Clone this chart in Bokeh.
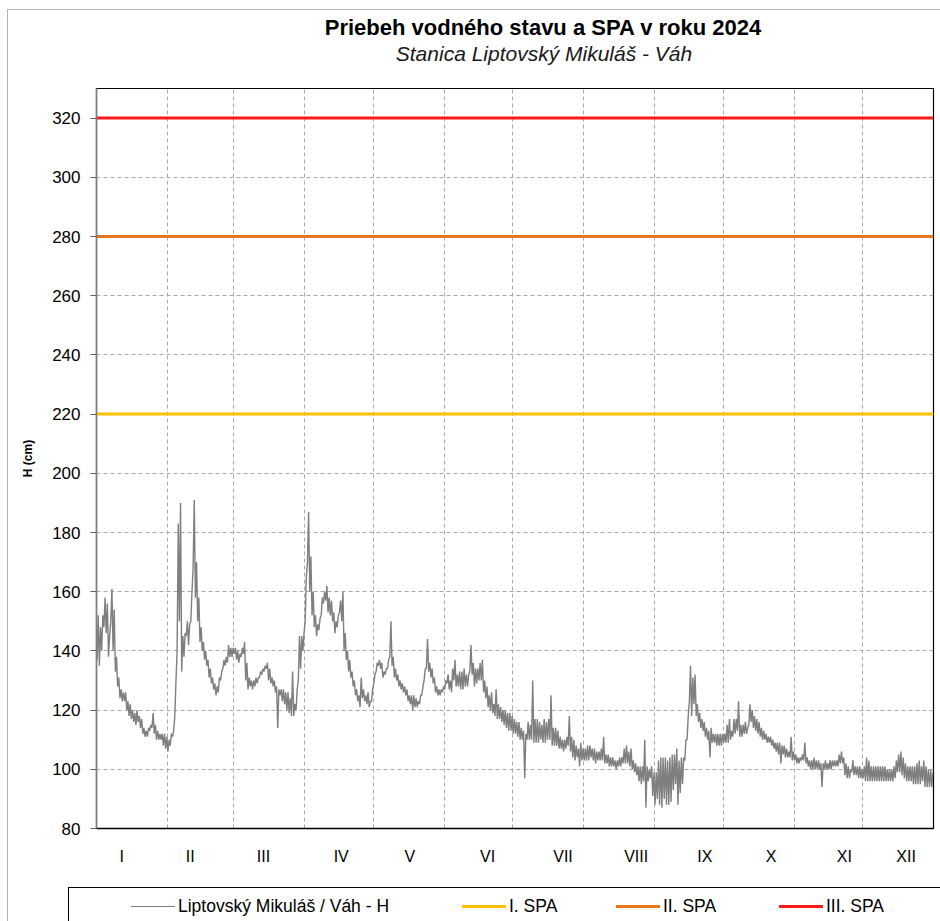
from bokeh.plotting import figure
from bokeh.models import Range1d, FixedTicker, ColumnDataSource, Div
from bokeh.layouts import column
from bokeh.embed import file_html
from bokeh.resources import INLINE

# ---------------- data ----------------
chart_title = "Priebeh vodného stavu a SPA v roku 2024"
chart_subtitle = "Stanica Liptovský Mikuláš - Váh"

month_lengths = [31, 29, 31, 30, 31, 30, 31, 31, 30, 31, 30, 31]
month_labels = ["I", "II", "III", "IV", "V", "VI", "VII", "VIII", "IX", "X", "XI", "XII"]
month_label_days = [11, 41, 73, 107, 137, 171, 204, 236, 266, 295, 327, 354]
y_ticks = [80, 100, 120, 140, 160, 180, 200, 220, 240, 260, 280, 300, 320]

spa_names = ["I. SPA", "II. SPA", "III. SPA"]
spa_levels = [220, 280, 320]
spa_colors = ["#FFC000", "#E8761E", "#FF1A1A"]

series_name = "Liptovský Mikuláš / Váh - H"
series_color = "#7F7F7F"

# daily minimum / maximum water level (cm), 2024 (366 days)
daily_low = [
    137, 135, 140, 148, 146, 138, 150, 140, 133, 128,
    124, 123, 123, 120, 118, 117, 116, 115, 116, 114,
    112, 111, 111, 113, 114, 112, 110, 110, 110, 108,
    107, 106, 108, 111, 118, 140, 150, 133, 138, 145,
    142, 150, 168, 158, 150, 143, 140, 137, 135, 131,
    129, 127, 125, 126, 130, 134, 135, 136, 138, 138,
    139, 137, 136, 138, 139, 130, 127, 128, 127, 128,
    129, 131, 132, 133, 134, 130, 129, 128, 126, 114,
    125, 123, 122, 120, 119, 118, 118, 120, 130, 134,
    140, 150, 170, 160, 152, 148, 145, 147, 152, 156,
    157, 153, 152, 150, 146, 148, 153, 150, 140, 137,
    133, 131, 128, 125, 123, 121, 124, 123, 122, 121,
    123, 129, 133, 135, 134, 131, 132, 134, 138, 135,
    131, 130, 128, 127, 126, 125, 123, 122, 120, 121,
    121, 122, 125, 130, 134, 133, 131, 129, 126, 125,
    125, 126, 127, 129, 127, 126, 130, 128, 128, 127,
    127, 128, 128, 133, 132, 128, 129, 130, 130, 126,
    124, 121, 120, 119, 118, 117, 117, 116, 115, 114,
    113, 113, 112, 112, 111, 110, 110, 97, 110, 110,
    110, 109, 109, 109, 110, 109, 109, 110, 110, 108,
    108, 108, 107, 107, 106, 107, 108, 106, 104, 103,
    104, 101, 103, 103, 103, 103, 104, 103, 102, 103,
    103, 103, 102, 102, 101, 101, 101, 100, 101, 101,
    102, 102, 102, 101, 100, 99, 98, 96, 95, 96,
    87, 96, 97, 91, 88, 90, 88, 87, 90, 88,
    88, 89, 93, 95, 88, 92, 95, 103, 110, 123,
    118, 122, 118, 116, 114, 113, 111, 110, 104, 109,
    109, 108, 108, 108, 109, 109, 109, 110, 111, 112,
    113, 111, 111, 112, 112, 115, 116, 114, 113, 112,
    111, 110, 110, 109, 109, 108, 107, 106, 105, 102,
    105, 104, 104, 104, 103, 103, 102, 102, 103, 103,
    102, 101, 100, 100, 100, 100, 100, 94, 100, 100,
    100, 100, 101, 101, 101, 102, 102, 98, 97, 97,
    99, 98, 98, 97, 97, 97, 96, 96, 96, 96,
    96, 96, 96, 96, 96, 96, 96, 96, 96, 97,
    99, 99, 98, 97, 96, 96, 96, 95, 95, 95,
    95, 96, 94, 94, 94, 94,
]
daily_high = [
    152, 148, 152, 158, 156, 145, 161, 154, 138, 131,
    127, 126, 126, 123, 122, 120, 119, 120, 118, 117,
    114, 113, 114, 115, 119, 115, 113, 112, 112, 112,
    111, 110, 112, 113, 130, 183, 190, 145, 146, 150,
    149, 160, 191, 170, 158, 148, 143, 140, 137, 134,
    131, 129, 128, 131, 133, 137, 138, 142, 141, 141,
    141, 140, 139, 141, 143, 136, 131, 130, 130, 131,
    131, 133, 134, 135, 136, 134, 131, 130, 128, 127,
    127, 127, 126, 126, 124, 133, 122, 127, 145, 145,
    146, 165, 187, 172, 160, 152, 149, 151, 158, 160,
    162, 158, 157, 153, 150, 152, 157, 160, 146, 140,
    137, 133, 130, 127, 125, 131, 127, 125, 126, 123,
    127, 132, 136, 137, 136, 133, 134, 137, 150, 138,
    134, 132, 130, 129, 128, 127, 125, 125, 125, 124,
    123, 125, 128, 134, 144, 136, 134, 131, 128, 127,
    127, 128, 130, 132, 130, 134, 137, 132, 133, 133,
    134, 132, 132, 142, 136, 134, 134, 136, 137, 130,
    128, 125, 126, 122, 127, 122, 121, 120, 120, 119,
    119, 118, 117, 116, 116, 114, 113, 112, 116, 115,
    130, 117, 117, 116, 115, 117, 116, 117, 125, 114,
    114, 113, 111, 110, 110, 111, 118, 111, 110, 108,
    107, 109, 107, 107, 108, 108, 107, 107, 106, 106,
    107, 111, 105, 105, 104, 104, 103, 103, 104, 104,
    107, 108, 106, 107, 103, 102, 101, 101, 101, 110,
    101, 100, 101, 99, 99, 103, 104, 104, 104, 103,
    104, 105, 105, 107, 103, 104, 104, 110, 118, 135,
    131, 132, 122, 119, 117, 116, 114, 113, 114, 112,
    112, 112, 112, 112, 112, 115, 117, 113, 117, 117,
    123, 115, 115, 116, 114, 122, 120, 118, 117, 116,
    114, 113, 112, 111, 111, 110, 109, 109, 109, 108,
    108, 107, 106, 111, 106, 105, 104, 104, 105, 109,
    104, 103, 103, 104, 103, 103, 102, 102, 103, 102,
    103, 103, 103, 103, 105, 106, 104, 102, 101, 100,
    103, 101, 101, 101, 100, 101, 104, 103, 101, 101,
    101, 101, 101, 101, 101, 100, 100, 100, 101, 103,
    105, 106, 104, 102, 101, 101, 101, 101, 102, 103,
    101, 103, 101, 100, 100, 99,
]

# ---------------- derived ----------------
n_days = len(daily_low)
month_starts = [0]
for m in month_lengths:
    month_starts.append(month_starts[-1] + m)

xs, ys = [], []
for i in range(n_days):
    xs.append(i + 0.25)
    ys.append(daily_low[i])
    xs.append(i + 0.75)
    ys.append(daily_high[i])
src = ColumnDataSource(dict(x=xs, y=ys))

FONT = "Liberation Sans"

# ---------------- title block ----------------
title_html = (
    f'<div style="position:relative;width:940px;height:86px;overflow:hidden;'
    f'font-family:\'{FONT}\';color:#000;">'
    f'<div style="position:absolute;left:0;top:15px;width:1086px;text-align:center;'
    f'font-weight:bold;font-size:22px;line-height:26px;white-space:nowrap;">{chart_title}</div>'
    f'<div style="position:absolute;left:0;top:41px;width:1088px;text-align:center;'
    f'font-style:italic;font-size:21px;line-height:25px;color:#1a1a1a;white-space:nowrap;">'
    f'{chart_subtitle}</div></div>'
)
title_div = Div(text=title_html, width=940, height=86, margin=(0, 0, 0, 0))

# ---------------- chart ----------------
p = figure(width=940, height=792, x_range=Range1d(0, n_days), y_range=Range1d(80, 330),
           output_backend="svg", toolbar_location=None,
           min_border_left=96, min_border_right=7, min_border_top=2, min_border_bottom=50)
p.title.visible = False
p.background_fill_color = "white"
p.border_fill_alpha = 0
p.outline_line_color = "black"
p.outline_line_width = 1.2

p.ygrid.ticker = FixedTicker(ticks=y_ticks)
p.ygrid.grid_line_color = "#A9A9A9"
p.ygrid.grid_line_dash = "4 3"
p.xgrid.ticker = FixedTicker(ticks=month_starts[1:-1])
p.xgrid.grid_line_color = "#A9A9A9"
p.xgrid.grid_line_dash = "4 3"

p.yaxis.ticker = FixedTicker(ticks=y_ticks)
p.yaxis.minor_tick_line_color = None
p.yaxis.major_tick_in = 0
p.yaxis.major_tick_out = 6
p.yaxis.major_tick_line_color = "#606060"
p.yaxis.axis_line_color = "#7F7F7F"
p.yaxis.axis_line_width = 1.5
p.yaxis.major_label_standoff = 10
p.yaxis.major_label_text_font = FONT
p.yaxis.major_label_text_font_size = "17px"
p.yaxis.major_label_text_color = "black"
p.yaxis.axis_label = "H (cm)"
p.yaxis.axis_label_text_font = FONT
p.yaxis.axis_label_text_font_style = "bold"
p.yaxis.axis_label_text_font_size = "12px"
p.yaxis.axis_label_text_color = "black"
p.yaxis.axis_label_standoff = 14

p.xaxis.ticker = FixedTicker(ticks=month_label_days)
p.xaxis.major_label_overrides = {d: lab for d, lab in zip(month_label_days, month_labels)}
p.xaxis.minor_tick_line_color = None
p.xaxis.major_tick_line_color = None
p.xaxis.major_tick_in = 0
p.xaxis.major_tick_out = 0
p.xaxis.axis_line_color = "black"
p.xaxis.axis_line_width = 1.5
p.xaxis.major_label_standoff = 19
p.xaxis.major_label_text_font = FONT
p.xaxis.major_label_text_font_size = "16px"
p.xaxis.major_label_text_color = "black"

p.line("x", "y", source=src, line_color=series_color, line_width=1.4)
for lvl, col in zip(spa_levels, spa_colors):
    p.line(x=[0, n_days], y=[lvl, lvl], line_color=col, line_width=3)

# ---------------- legend block ----------------
item_left = [131, 462, 616, 779]
item_names = [series_name] + spa_names
item_colors = [series_color] + spa_colors
item_widths = [1.5, 3, 3, 3]
items_html = ""
for lx, nm, col, lw in zip(item_left, item_names, item_colors, item_widths):
    items_html += (
        f'<div style="position:absolute;left:{lx}px;top:18px;height:20px;display:flex;'
        f'align-items:center;white-space:nowrap;">'
        f'<span style="display:inline-block;width:44px;height:0;border-top:{lw}px solid {col};"></span>'
        f'<span style="margin-left:3px;">{nm}</span></div>'
    )
legend_html = (
    f'<div style="position:relative;width:940px;height:43px;overflow:hidden;'
    f'font-family:\'{FONT}\';font-size:17.5px;color:#000;">'
    f'<div style="position:absolute;left:68px;top:9px;width:900px;height:60px;'
    f'border:1px solid #000;background:#fff;box-sizing:border-box;"></div>'
    f'{items_html}</div>'
)
legend_div = Div(text=legend_html, width=940, height=43, margin=(0, 0, 0, 0))

# thin grey chart-area border (top and left edges), drawn as background lines
frame_styles = {
    "background-color": "#ffffff",
    "background-image": "linear-gradient(#B4B4B4, #B4B4B4), linear-gradient(#B4B4B4, #B4B4B4)",
    "background-size": "1px 100%, 100% 1px",
    "background-position": "7px 9px, 7px 9px",
    "background-repeat": "no-repeat",
}
layout = column(title_div, p, legend_div, spacing=0, styles=frame_styles)
open("out.html", "w").write(file_html(layout, INLINE))
